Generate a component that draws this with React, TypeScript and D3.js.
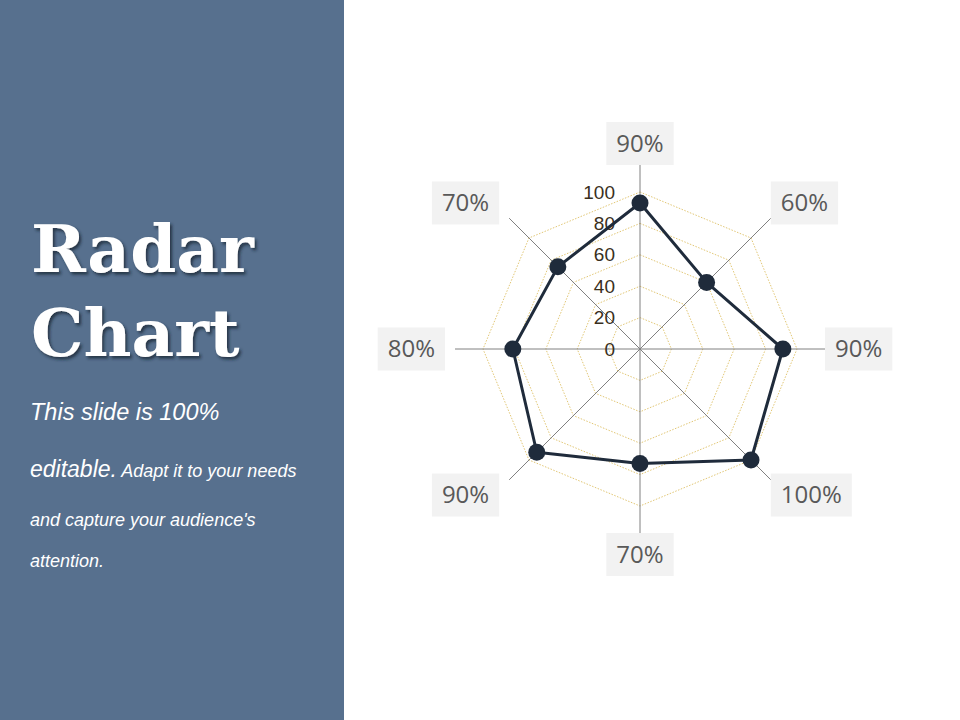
import { useEffect, useRef } from 'react';
import * as d3 from 'd3';

const categories = ['90%', '60%', '90%', '100%', '70%', '90%', '80%', '70%'];
const values = [93, 60, 91, 100, 73, 93, 81, 74];
const radialTicks = [0, 20, 40, 60, 80, 100];

const WIDTH = 960;
const HEIGHT = 720;
const PANEL_W = 344;
const CX = 640;
const CY = 349;
const RADIUS = 157;
const AXIS_LEN = 185;

export default function App() {
  const svgRef = useRef<SVGSVGElement>(null);

  useEffect(() => {
    if (!svgRef.current) return;
    const svg = d3.select(svgRef.current);
    svg.selectAll('*').remove();

    // shadow for the title
    const defs = svg.append('defs');
    defs
      .append('filter')
      .attr('id', 'titleShadow')
      .attr('x', '-10%')
      .attr('y', '-10%')
      .attr('width', '130%')
      .attr('height', '130%')
      .append('feDropShadow')
      .attr('dx', 2)
      .attr('dy', 2.5)
      .attr('stdDeviation', 1.5)
      .attr('flood-color', '#1c2636')
      .attr('flood-opacity', 0.8);

    svg
      .append('rect')
      .attr('width', WIDTH)
      .attr('height', HEIGHT)
      .attr('fill', '#ffffff');

    // Left panel
    svg
      .append('rect')
      .attr('width', PANEL_W)
      .attr('height', HEIGHT)
      .attr('fill', '#57708e');

    const title = svg
      .append('g')
      .attr('filter', 'url(#titleShadow)')
      .attr('font-family', '"DejaVu Serif", Georgia, serif')
      .attr('font-weight', 'bold')
      .attr('font-size', 66)
      .attr('fill', '#ffffff');
    title.append('text').attr('x', 31).attr('y', 272).text('Radar');
    title.append('text').attr('x', 31).attr('y', 356).text('Chart');

    const sub = svg
      .append('g')
      .attr('font-family', '"Liberation Sans", Arial, sans-serif')
      .attr('font-style', 'italic')
      .attr('fill', '#ffffff');
    sub.append('text').attr('x', 30).attr('y', 420).attr('font-size', 23.5).text('This slide is 100%');
    const l2 = sub.append('text').attr('x', 30).attr('y', 477);
    l2.append('tspan').attr('font-size', 23).text('editable.');
    l2.append('tspan').attr('font-size', 18).text(' Adapt it to your needs');
    sub.append('text').attr('x', 30).attr('y', 526).attr('font-size', 18).text("and capture your audience's");
    sub.append('text').attr('x', 30).attr('y', 567).attr('font-size', 18).text('attention.');

    // Radar
    const r = d3.scaleLinear().domain([0, 100]).range([0, RADIUS]);
    const angle = d3
      .scaleLinear()
      .domain([0, categories.length])
      .range([0, 2 * Math.PI]);

    const g = svg.append('g').attr('transform', `translate(${CX},${CY})`);

    // dotted grid rings
    radialTicks
      .filter((t) => t > 0)
      .forEach((t) => {
        const pts = categories.map((_, i) => {
          const a = angle(i);
          return [Math.sin(a) * r(t), -Math.cos(a) * r(t)];
        });
        g.append('polygon')
          .attr('points', pts.map((p) => p.join(',')).join(' '))
          .attr('fill', 'none')
          .attr('stroke', '#e2c775')
          .attr('stroke-width', 1)
          .attr('stroke-dasharray', '1.5,1.5');
      });

    // spokes
    categories.forEach((_, i) => {
      const a = angle(i);
      g.append('line')
        .attr('x1', 0)
        .attr('y1', 0)
        .attr('x2', Math.sin(a) * AXIS_LEN)
        .attr('y2', -Math.cos(a) * AXIS_LEN)
        .attr('stroke', '#808080')
        .attr('stroke-width', 1);
    });

    // radial tick labels
    radialTicks.forEach((t) => {
      g.append('text')
        .attr('x', -25)
        .attr('y', -r(t))
        .attr('dy', '0.35em')
        .attr('text-anchor', 'end')
        .attr('font-family', '"Liberation Sans", Arial, sans-serif')
        .attr('font-size', 19)
        .attr('fill', '#3a2f1c')
        .text(t);
    });

    // series line
    const line = d3
      .lineRadial<number>()
      .angle((_, i) => angle(i))
      .radius((d) => r(d))
      .curve(d3.curveLinearClosed);

    g.append('path')
      .attr('d', line(values))
      .attr('fill', 'none')
      .attr('stroke', '#1f2b3b')
      .attr('stroke-width', 3)
      .attr('stroke-linejoin', 'round');

    values.forEach((v, i) => {
      const a = angle(i);
      g.append('circle')
        .attr('cx', Math.sin(a) * r(v))
        .attr('cy', -Math.cos(a) * r(v))
        .attr('r', 8.5)
        .attr('fill', '#1f2b3b');
    });

    // category labels in grey boxes
    const BOX_H = 43;
    const PAD = 10;
    categories.forEach((c, i) => {
      const a = angle(i);
      const sx = Math.sin(a);
      const sy = -Math.cos(a);
      const ex = sx * AXIS_LEN;
      const ey = sy * AXIS_LEN;
      const lg = g.append('g');
      const txt = lg
        .append('text')
        .attr('text-anchor', 'middle')
        .attr('dy', '0.35em')
        .attr('font-family', '"Open Sans", sans-serif')
        .attr('font-size', 24)
        .attr('fill', '#595959')
        .text(c);
      const tw = (txt.node() as SVGTextElement).getComputedTextLength();
      const w = tw + PAD * 2;
      const ox = Math.abs(sx) > 0.1 ? Math.sign(sx) * (w / 2 + (sx < 0 ? 10 : 0)) : 0;
      const oy = sy * (BOX_H / 2) + (Math.abs(sy) > 0.9 ? sy * -1 : 0);
      const bx = ex + ox;
      const by = ey + oy;
      lg.insert('rect', 'text')
        .attr('x', bx - w / 2)
        .attr('y', by - BOX_H / 2)
        .attr('width', w)
        .attr('height', BOX_H)
        .attr('fill', '#f2f2f2');
      txt.attr('x', bx).attr('y', by);
    });
  }, []);

  return (
    <div style={{ position: 'absolute', left: 0, top: 0 }}>
      <svg ref={svgRef} width={WIDTH} height={HEIGHT} style={{ display: 'block' }} />
    </div>
  );
}
